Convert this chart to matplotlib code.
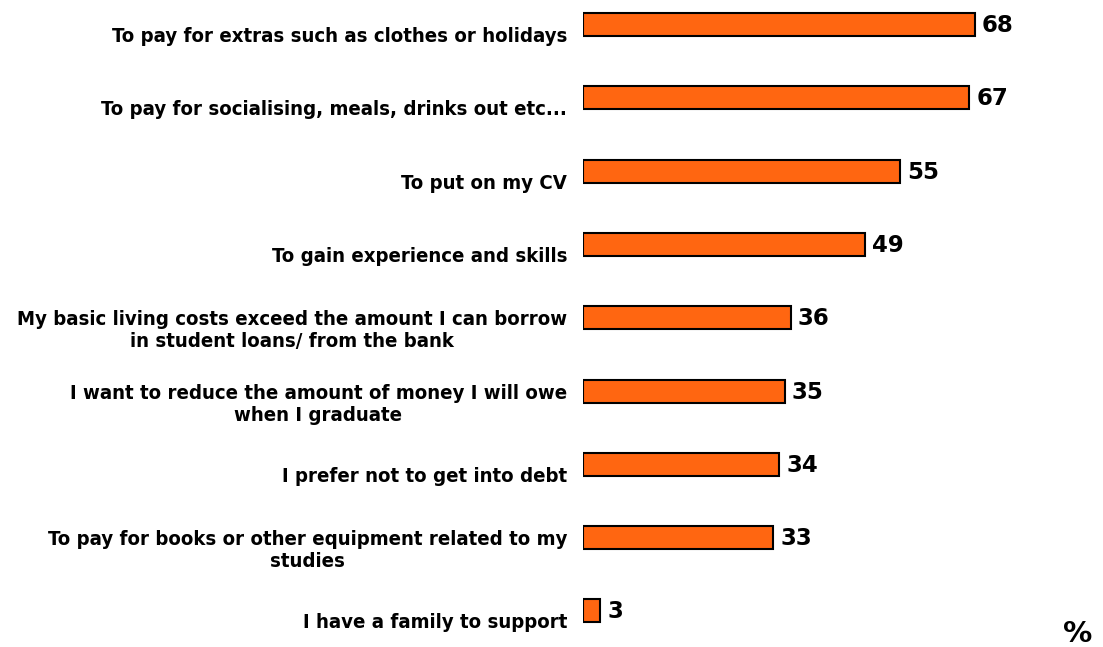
import matplotlib
matplotlib.use("Agg")
import matplotlib.pyplot as plt
import matplotlib.transforms as mtransforms

categories = [
    "To pay for extras such as clothes or holidays",
    "To pay for socialising, meals, drinks out etc...",
    "To put on my CV",
    "To gain experience and skills",
    "My basic living costs exceed the amount I can borrow\nin student loans/ from the bank",
    "I want to reduce the amount of money I will owe\nwhen I graduate",
    "I prefer not to get into debt",
    "To pay for books or other equipment related to my\nstudies",
    "I have a family to support",
]
values = [68, 67, 55, 49, 36, 35, 34, 33, 3]
unit_label = "%"

W, H = 1103, 647
fig = plt.figure(figsize=(W / 100, H / 100), dpi=100)
ax_left = 583 / W
ax = fig.add_axes([ax_left, 0, 1 - ax_left, 1])
px_per_unit = (975 - 583) / 68.0
ax.set_xlim(0, (W - 583) / px_per_unit)
spacing = 73.3
c0 = 24.5
ax.set_ylim((H - c0) / spacing, -c0 / spacing)
ax.axis("off")

ypos = list(range(len(values)))
ax.barh(ypos, values, height=23 / spacing, color="#FF6611",
        edgecolor="black", linewidth=1.5)

for y, cat in zip(ypos, categories):
    n = cat.count("\n") + 1
    dy = -12 if n == 1 else -13
    off = mtransforms.offset_copy(ax.transData, fig=fig, x=-16, y=dy, units="dots")
    ax.text(0, y, cat, transform=off, ha="right", va="center",
            fontsize=14.6, fontweight="bold", family="DejaVu Sans",
            fontstretch="condensed", linespacing=1.2, multialignment="center")

val_off = mtransforms.offset_copy(ax.transData, fig=fig, x=7, y=-1, units="dots")
for y, v in zip(ypos, values):
    ax.text(v, y, str(v), transform=val_off, ha="left", va="center",
            fontsize=16.5, fontweight="bold", family="DejaVu Sans")

fig.text(1078 / W, 1 - 642 / H, unit_label, ha="center", va="baseline",
         fontsize=21, fontweight="bold")

fig.savefig("out.png", dpi=100)
